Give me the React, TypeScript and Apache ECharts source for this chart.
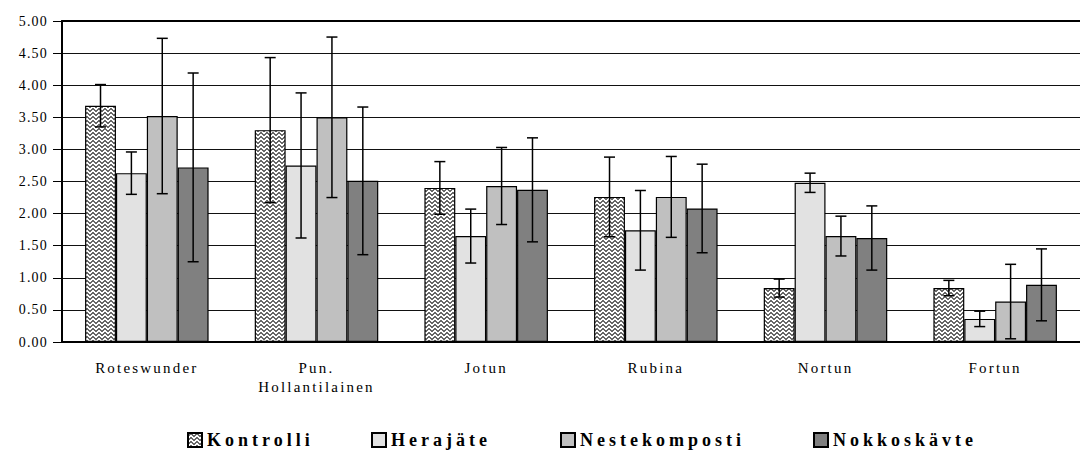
import React, { useEffect, useRef } from "react";
import * as echarts from "echarts";

const categories = ["Roteswunder", "Pun.\nHollantilainen", "Jotun", "Rubina", "Nortun", "Fortun"];
const seriesNames = ["Kontrolli", "Herajäte", "Nestekomposti", "Nokkoskävte"];

const kontrolli = [3.68, 3.3, 2.4, 2.26, 0.84, 0.84];
const kontrolliErr = [0.33, 1.13, 0.41, 0.62, 0.14, 0.12];
const herajate = [2.63, 2.75, 1.65, 1.74, 2.48, 0.36];
const herajateErr = [0.33, 1.13, 0.42, 0.62, 0.15, 0.12];
const nestekomposti = [3.52, 3.5, 2.43, 2.26, 1.65, 0.63];
const nestekompostiErr = [1.21, 1.25, 0.6, 0.63, 0.31, 0.58];
const nokkoskavte = [2.72, 2.51, 2.37, 2.08, 1.62, 0.89];
const nokkoskavteErr = [1.47, 1.15, 0.81, 0.69, 0.5, 0.56];

const yTicks = [0, 0.5, 1, 1.5, 2, 2.5, 3, 3.5, 4, 4.5, 5];

const FONT = '"Liberation Serif", "Times New Roman", serif';
const BAR_GAP = 0.272;

function makePattern(): HTMLCanvasElement {
  const rows = ["WWGGWW", "WGGGGW", "GGWWGG", "GWWWWG"];
  const c = document.createElement("canvas");
  c.width = 6;
  c.height = 4;
  const ctx = c.getContext("2d")!;
  rows.forEach((r, y) => {
    for (let x = 0; x < r.length; x++) {
      ctx.fillStyle = r[x] === "G" ? "#686868" : "#ffffff";
      ctx.fillRect(x, y, 1, 1);
    }
  });
  return c;
}

export default function App() {
  const ref = useRef<HTMLDivElement>(null);

  useEffect(() => {
    if (!ref.current) return;
    const chart = echarts.init(ref.current, null, { renderer: "svg" });
    const pattern = makePattern();
    const values = [kontrolli, herajate, nestekomposti, nokkoskavte];
    const errs = [kontrolliErr, herajateErr, nestekompostiErr, nokkoskavteErr];
    const colors: any[] = [
      { image: pattern, repeat: "repeat" },
      "#e2e2e2",
      "#c0c0c0",
      "#808080",
    ];

    const barSeries = seriesNames.map((name, i) => ({
      name,
      type: "bar",
      data: values[i],
      barGap: "0%",
      barCategoryGap: BAR_GAP * 100 + "%",
      itemStyle: { color: colors[i], borderColor: "#000", borderWidth: 1.2 },
      z: 2,
    }));

    const errSeries = seriesNames.map((name, i) => ({
      name: name + " err",
      type: "custom",
      z: 5,
      data: values[i].map((v, k) => [k, v, errs[i][k]]),
      encode: { x: 0, y: 1 },
      renderItem: (params: any, api: any) => {
        const cat = api.value(0);
        const v = api.value(1);
        const e = api.value(2);
        const catW = api.size([1, 0])[0];
        const barW = (catW * (1 - BAR_GAP)) / 4;
        const center = api.coord([cat, v])[0];
        const x = center + (i - 1.5) * barW;
        const yTop = api.coord([cat, v + e])[1];
        const yBot = api.coord([cat, v - e])[1];
        const half = 5.5;
        const st = { stroke: "#000", lineWidth: 1.5 };
        return {
          type: "group",
          children: [
            { type: "line", shape: { x1: x, y1: yTop, x2: x, y2: yBot }, style: st },
            { type: "line", shape: { x1: x - half, y1: yTop, x2: x + half, y2: yTop }, style: st },
            { type: "line", shape: { x1: x - half, y1: yBot, x2: x + half, y2: yBot }, style: st },
          ],
        };
      },
    }));

    const legendLefts = [182, 366, 555, 808];

    chart.setOption({
      animation: false,
      backgroundColor: "#fff",
      textStyle: { fontFamily: FONT },
      grid: { left: 62, top: 21, width: 1029.6, height: 321 },
      legend: seriesNames.map((n, i) => ({
        data: [n],
        left: legendLefts[i],
        top: 426,
        icon: "rect",
        itemWidth: 14,
        itemHeight: 14,
        selectedMode: false,
        textStyle: { fontFamily: FONT, fontSize: 18, fontWeight: "bold", color: "#000" },
      })),
      xAxis: [
        {
          type: "category",
          data: categories,
          axisLine: { lineStyle: { color: "#000", width: 2 } },
          axisTick: { show: false },
          axisLabel: {
            interval: 0,
            color: "#000",
            fontFamily: FONT,
            fontSize: 15,
            lineHeight: 19.5,
            margin: 16,
          },
        },
        {
          type: "category",
          position: "top",
          data: categories,
          axisLine: { show: true, lineStyle: { color: "#000", width: 2 } },
          axisTick: { show: false },
          axisLabel: { show: false },
        },
      ],
      yAxis: {
        type: "value",
        min: yTicks[0],
        max: yTicks[yTicks.length - 1],
        interval: 0.5,
        axisLine: { show: true, lineStyle: { color: "#000", width: 2 } },
        axisTick: { show: true, length: 9, lineStyle: { color: "#000", width: 1 } },
        axisLabel: {
          color: "#000",
          fontFamily: FONT,
          fontSize: 14,
          margin: 14,
          formatter: (v: number) => v.toFixed(2),
        },
        splitLine: { show: true, lineStyle: { color: "#111", width: 1 } },
      },
      series: [...barSeries, ...errSeries],
    });

    return () => chart.dispose();
  }, []);

  return (
    <>
      <style>{`#chart text { letter-spacing: 2.2px; } #chart text[style*="14px"] { letter-spacing: 1.2px; } #chart text[style*="bold"] { letter-spacing: 4px; }`}</style>
      <div
        id="chart"
        ref={ref}
        style={{ position: "fixed", left: 0, top: 0, width: 1080, height: 452, background: "#fff" }}
      />
    </>
  );
}
